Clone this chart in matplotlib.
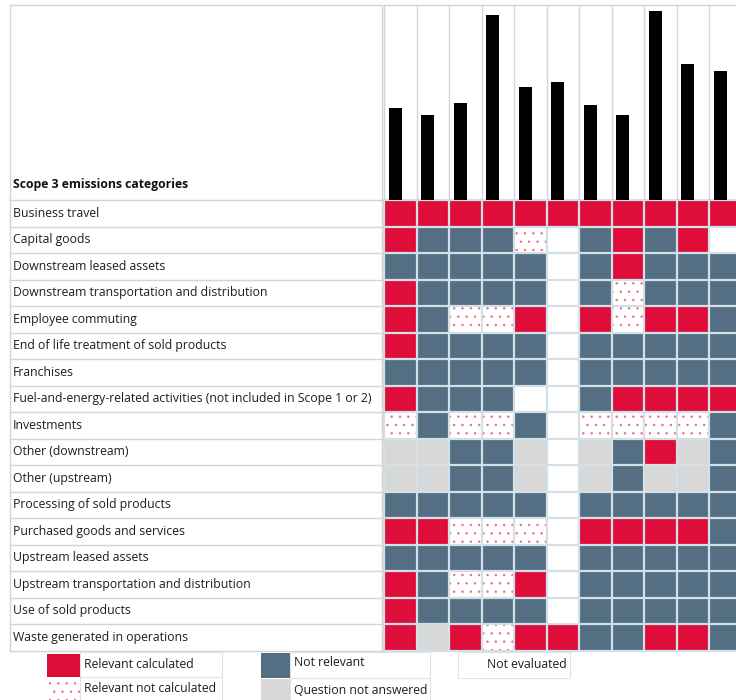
import numpy as np
import matplotlib.pyplot as plt
from matplotlib.patches import Rectangle

plt.rcParams['font.family'] = ['Open Sans', 'DejaVu Sans']
plt.rcParams['hatch.linewidth'] = 0.5

categories = [
    'Business travel',
    'Capital goods',
    'Downstream leased assets',
    'Downstream transportation and distribution',
    'Employee commuting',
    'End of life treatment of sold products',
    'Franchises',
    'Fuel-and-energy-related activities (not included in Scope 1 or 2)',
    'Investments',
    'Other (downstream)',
    'Other (upstream)',
    'Processing of sold products',
    'Purchased goods and services',
    'Upstream leased assets',
    'Upstream transportation and distribution',
    'Use of sold products',
    'Waste generated in operations',
]

# R = relevant calculated, D = relevant not calculated, N = not relevant,
# Q = question not answered, W = not evaluated
status = [
    'RRRRRRRRRRR',
    'RNNNDWNRNRW',
    'NNNNNWNRNNN',
    'RNNNNWNDNNN',
    'RNDDRWRDRRN',
    'RNNNNWNNNNN',
    'NNNNNWNNNNN',
    'RNNNWWNRRRR',
    'DNDDNWDDDDN',
    'QQNNQWQNRQN',
    'QQNNQWQNQQN',
    'NNNNNWNNNNN',
    'RRDDDWRRRRN',
    'NNNNNWNNNNN',
    'RNDDRWNNNNN',
    'RNNNNWNNNNN',
    'RQRDRRNNRRN',
]

bar_values = [92, 85, 97, 185, 113, 118, 95, 85, 189, 136, 129]

legend_items = [
    ('R', 'Relevant calculated'),
    ('D', 'Relevant not calculated'),
    ('N', 'Not relevant'),
    ('Q', 'Question not answered'),
    ('W', 'Not evaluated'),
]

red = '#de0d3a'
slate = '#546f84'
grey = '#d8d8d8'
dot = '#ea6a88'
colors = {'R': red, 'D': 'white', 'N': slate, 'Q': grey, 'W': 'white'}
gridc = '#d3e0e8'
linec = '#d4d4d4'
fs = 8.8

W, H = 736, 700
fig = plt.figure(figsize=(W / 100, H / 100), dpi=100)


def px(x0, y0, x1, y1):
    return [x0 / W, 1 - y1 / H, (x1 - x0) / W, (y1 - y0) / H]


def cell(ax, xy, w, h, s, transform=None):
    kw = {} if transform is None else {'transform': transform}
    if s == 'D':
        p = Rectangle(xy, w, h, facecolor='white', edgecolor=dot,
                      hatch='..', linewidth=0, **kw)
    else:
        p = Rectangle(xy, w, h, facecolor=colors[s], linewidth=0, **kw)
    ax.add_artist(p) if transform is not None else ax.add_patch(p)


ncol = len(bar_values)
nrow = len(categories)
cw = 32.5
gx0 = 384
gtop, gbot = 200, 650.5

# heatmap
ax = fig.add_axes(px(gx0, gtop, gx0 + ncol * cw, gbot))
for i, row in enumerate(status):
    for j, s in enumerate(row):
        cell(ax, (j, i), 1, 1, s)
for j in range(ncol + 1):
    ax.axvline(j, color=gridc, lw=1.6, clip_on=False)
for i in range(nrow + 1):
    ax.axhline(i, color=gridc, lw=1.6, clip_on=False)
ax.set_xlim(0, ncol)
ax.set_ylim(nrow, 0)
ax.axis('off')

# bars on top
bx = fig.add_axes(px(gx0, 5, gx0 + ncol * cw, gtop))
bx.bar(np.arange(ncol) + 0.35, bar_values, width=0.4, color='black', zorder=3)
for j in range(ncol + 1):
    bx.axvline(j, color=linec, lw=1, clip_on=False)
bx.axhline(195, color=linec, lw=1, clip_on=False)
bx.set_xlim(0, ncol)
bx.set_ylim(0, 195)
bx.axis('off')

# category labels
lx = fig.add_axes(px(10, gtop, gx0, gbot))
for i, name in enumerate(categories):
    lx.text(0.008, i + 0.5, name, va='center', ha='left', fontsize=fs,
            color='#1e1e1e')
for i in range(nrow + 1):
    lx.axhline(i, color=linec, lw=1, clip_on=False)
lx.axvline(0, color=linec, lw=1, clip_on=False)
lx.axvline(0.995, color=linec, lw=1, clip_on=False)
lx.set_xlim(0, 1)
lx.set_ylim(nrow, 0)
lx.axis('off')

# header cell
hx = fig.add_axes(px(10, 5, gx0, gtop))
hx.plot([0, 0, 0.995, 0.995], [0, 1, 1, 0], color=linec, lw=1, clip_on=False)
hx.text(0.008, 0.08, 'Scope 3 emissions categories', fontweight='bold',
        fontsize=fs, va='center', ha='left', color='#111111')
hx.set_xlim(0, 1)
hx.set_ylim(0, 1)
hx.axis('off')

# legend
leg_pos = {
    'R': ((47, 654, 80, 677), (84, 665), (80, 652, 222, 677)),
    'D': ((47, 678, 80, 700), (84, 689), (80, 677, 222, 702)),
    'N': ((261, 653, 290, 678), (294, 662), (290, 652, 430, 678)),
    'Q': ((261, 679, 290, 700), (294, 691), (290, 678, 430, 702)),
    'W': ((459, 653, 484, 678), (487, 664), (458, 652, 570, 678)),
}
for key, text in legend_items:
    (a, b, c, d), (tx, ty), (e, f, g, h) = leg_pos[key]
    fig.add_artist(Rectangle((e / W, 1 - h / H), (g - e) / W, (h - f) / H,
                             facecolor='none', edgecolor='#e2e2e2', lw=0.8,
                             transform=fig.transFigure))
    cell(fig, (a / W, 1 - d / H), (c - a) / W, (d - b) / H, key,
         transform=fig.transFigure)
    fig.text(tx / W, 1 - ty / H, text, fontsize=fs, va='center', ha='left',
             color='#1e1e1e')

fig.savefig('out.png', dpi=100)
